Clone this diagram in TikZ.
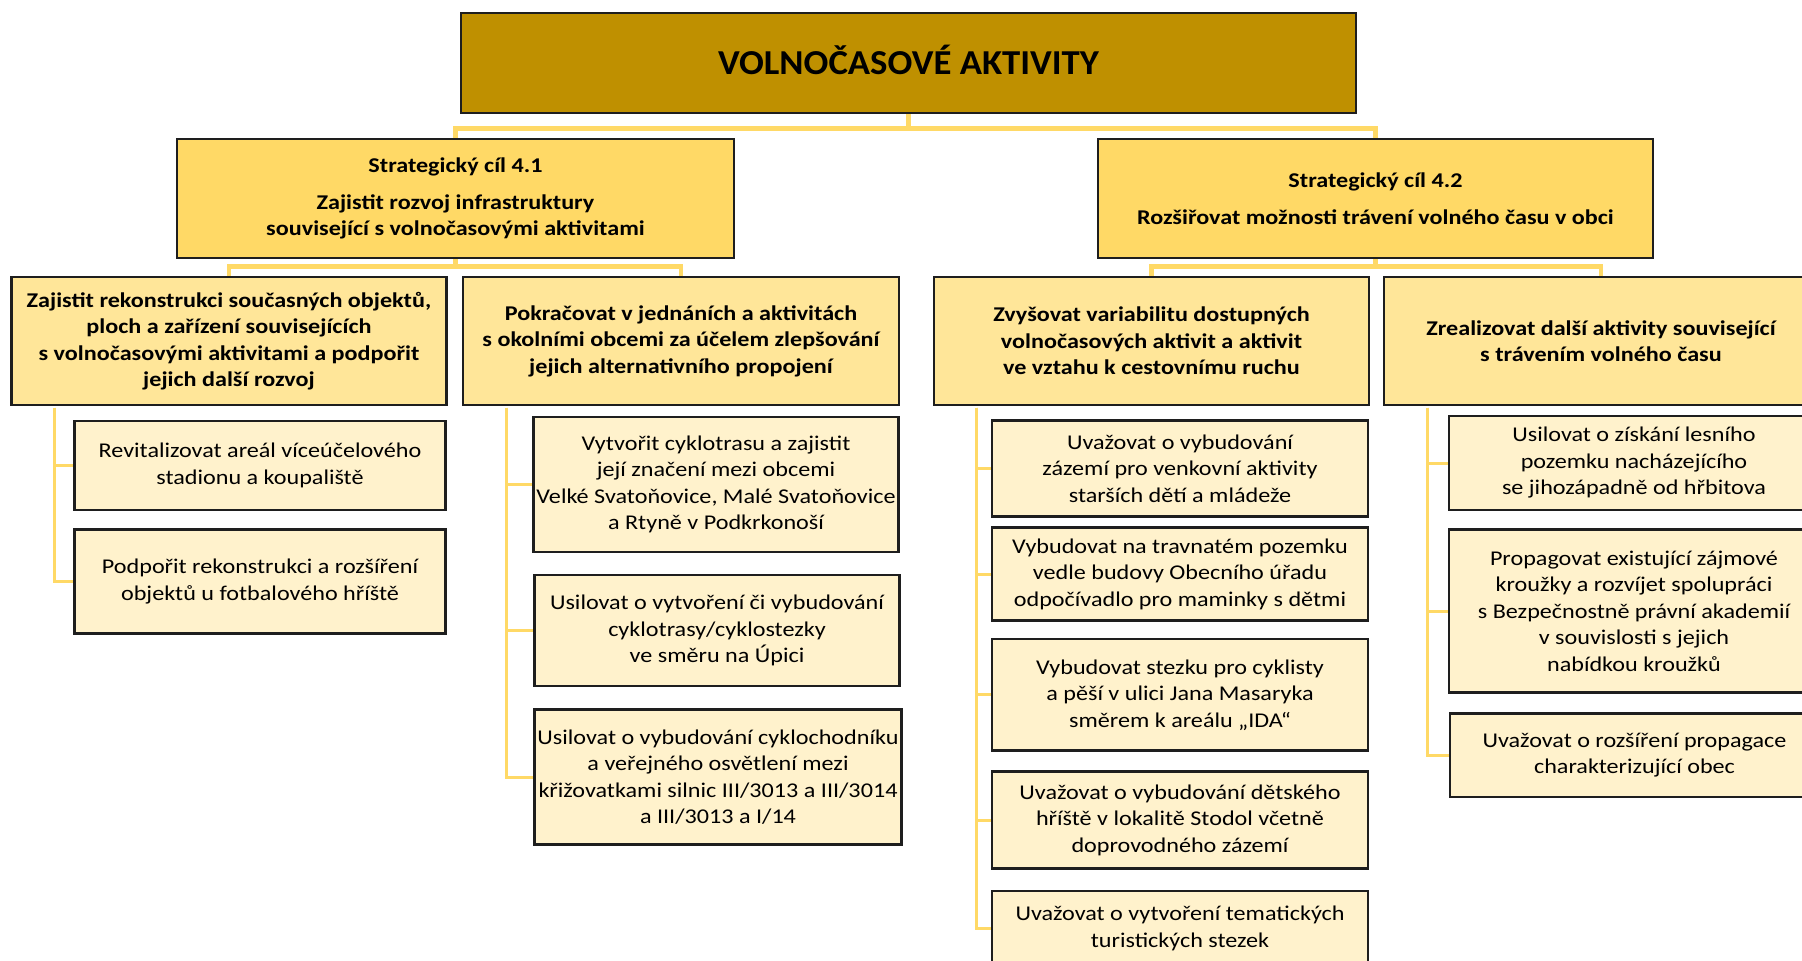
\documentclass[tikz,border=0pt]{standalone}
\usepackage{fontspec}
\setmainfont{Carlito}[FakeStretch=1.15]
\newfontfamily\titlefont{Carlito}[FakeStretch=1.05]
\usetikzlibrary{calc}
\definecolor{titlefill}{HTML}{BF9000}
\definecolor{lvlone}{HTML}{FFD966}
\definecolor{lvltwo}{HTML}{FFE699}
\definecolor{lvlthree}{HTML}{FFF2CC}
\definecolor{connc}{HTML}{FFD966}
\definecolor{bord}{HTML}{1E1E1E}
\tikzset{
  box/.style={draw=bord, line width=2.6pt, inner sep=0pt, align=center, text=black},
  titlebox/.style={box, fill=titlefill, text height=22.5pt, text depth=0pt, font=\titlefont\fontsize{35}{40}\selectfont\bfseries},
  onebox/.style={box, fill=lvlone, font=\fontsize{21}{26.5}\selectfont\bfseries},
  twobox/.style={box, fill=lvltwo, font=\fontsize{21}{26.5}\selectfont\bfseries},
  threebox/.style={box, fill=lvlthree, font=\fontsize{21}{26.5}\selectfont},
  connbig/.style={draw=connc, line width=4.5pt},
  connsmall/.style={draw=connc, line width=3pt},
}
\begin{document}
\begin{tikzpicture}[x=1pt,y=-1pt]
\useasboundingbox (0,0) rectangle (1802,961);
% title
\node[titlebox, minimum width=895pt, minimum height=100pt] (T) at (908.5,63) {VOLNOČASOVÉ AKTIVITY};
% level 1
\node[onebox, minimum width=557pt, minimum height=119pt] (S1) at (455.5,198.5)
  {Strategický cíl 4.1\\[10.5pt]Zajistit rozvoj infrastruktury\\související s volnočasovými aktivitami};
\node[onebox, minimum width=555pt, minimum height=119pt] (S2) at (1375.5,198.5)
  {Strategický cíl 4.2\\[10.5pt]Rozšiřovat možnosti trávení volného času v obci};
% level 2
\node[twobox, minimum width=435pt, minimum height=128pt] (A1) at (229,341)
  {Zajistit rekonstrukci současných objektů,\\ploch a zařízení souvisejících\\s volnočasovými aktivitami a podpořit\\jejich další rozvoj};
\node[twobox, minimum width=436pt, minimum height=128pt] (A2) at (681,341)
  {Pokračovat v jednáních a aktivitách\\s okolními obcemi za účelem zlepšování\\jejich alternativního propojení};
\node[twobox, minimum width=435pt, minimum height=128pt] (B1) at (1151.5,341)
  {Zvyšovat variabilitu dostupných\\volnočasových aktivit a aktivit\\ve vztahu k cestovnímu ruchu};
\node[twobox, minimum width=434pt, minimum height=128pt] (B2) at (1601,341)
  {Zrealizovat další aktivity související\\s trávením volného času};
% level 3 under A1
\node[threebox, minimum width=371pt, minimum height=89pt] (C1) at (260,465.5)
  {Revitalizovat areál víceúčelového\\stadionu a koupaliště};
\node[threebox, minimum width=371pt, minimum height=104pt] (C2) at (260,581.5)
  {Podpořit rekonstrukci a rozšíření\\objektů u fotbalového hříště};
% under A2
\node[threebox, minimum width=365pt, minimum height=135pt] (D1) at (716,484.5)
  {Vytvořit cyklotrasu a zajistit\\její značení mezi obcemi\\Velké Svatoňovice, Malé Svatoňovice\\a Rtyně v Podkrkonoší};
\node[threebox, minimum width=365pt, minimum height=111pt] (D2) at (717,630.5)
  {Usilovat o vytvoření či vybudování\\cyklotrasy/cyklostezky\\ve směru na Úpici};
\node[threebox, minimum width=367pt, minimum height=135.5pt] (D3) at (718,777)
  {Usilovat o vybudování cyklochodníku\\a veřejného osvětlení mezi\\křižovatkami silnic III/3013 a III/3014\\a III/3013 a I/14};
% under B1
\node[threebox, minimum width=376pt, minimum height=96pt] (E1) at (1180,468.4)
  {Uvažovat o vybudování\\zázemí pro venkovní aktivity\\starších dětí a mládeže};
\node[threebox, minimum width=376pt, minimum height=93pt] (E2) at (1180,574)
  {Vybudovat na travnatém pozemku\\vedle budovy Obecního úřadu\\odpočívadlo pro maminky s dětmi};
\node[threebox, minimum width=376pt, minimum height=111.6pt] (E3) at (1180,694.8)
  {Vybudovat stezku pro cyklisty\\a pěší v ulici Jana Masaryka\\směrem k areálu „IDA“};
\node[threebox, minimum width=376pt, minimum height=97pt] (E4) at (1180,820)
  {Uvažovat o vybudování dětského\\hříště v lokalitě Stodol včetně\\doprovodného zázemí};
\node[threebox, minimum width=376pt, minimum height=75pt] (E5) at (1180,928.5)
  {Uvažovat o vytvoření tematických\\turistických stezek};
% under B2
\node[threebox, minimum width=370pt, minimum height=94pt] (F1) at (1634,463)
  {Usilovat o získání lesního\\pozemku nacházejícího\\se jihozápadně od hřbitova};
\node[threebox, minimum width=370pt, minimum height=163pt] (F2) at (1634,611)
  {Propagovat existující zájmové\\kroužky a rozvíjet spolupráci\\s Bezpečnostně právní akademií\\v souvislosti s jejich\\nabídkou kroužků};
\node[threebox, minimum width=369pt, minimum height=83.6pt] (F3) at (1634.5,755.2)
  {Uvažovat o rozšíření propagace\\charakterizující obec};
% connectors top
\draw[connbig] (T.south) -- ++(0,14) -| (S1.north);
\draw[connbig] (T.south) -- ++(0,14) -| (S2.north);
\draw[connbig] (S1.south) -- ++(0,7) -| (A1.north);
\draw[connbig] (S1.south) -- ++(0,7) -| (A2.north);
\draw[connbig] (S2.south) -- ++(0,7) -| (B1.north);
\draw[connbig] (S2.south) -- ++(0,7) -| (B2.north);
% level 3 spines
\coordinate (a1v) at ($(A1.south west)+(44.5,1.3)$);
\coordinate (a2v) at ($(A2.south west)+(44.5,1.3)$);
\coordinate (b1v) at ($(B1.south west)+(44,1.3)$);
\coordinate (b2v) at ($(B2.south west)+(45,1.3)$);
\draw[connsmall] (a1v) |- (C1.west);
\draw[connsmall] (a1v) |- (C2.west);
\draw[connsmall] (a2v) |- (D1.west);
\draw[connsmall] (a2v) |- (D2.west);
\draw[connsmall] (a2v) |- (D3.west);
\draw[connsmall] (b1v) |- (E1.west);
\draw[connsmall] (b1v) |- (E2.west);
\draw[connsmall] (b1v) |- (E3.west);
\draw[connsmall] (b1v) |- (E4.west);
\draw[connsmall] (b1v) |- (E5.west);
\draw[connsmall] (b2v) |- (F1.west);
\draw[connsmall] (b2v) |- (F2.west);
\draw[connsmall] (b2v) |- (F3.west);
\end{tikzpicture}
\end{document}
